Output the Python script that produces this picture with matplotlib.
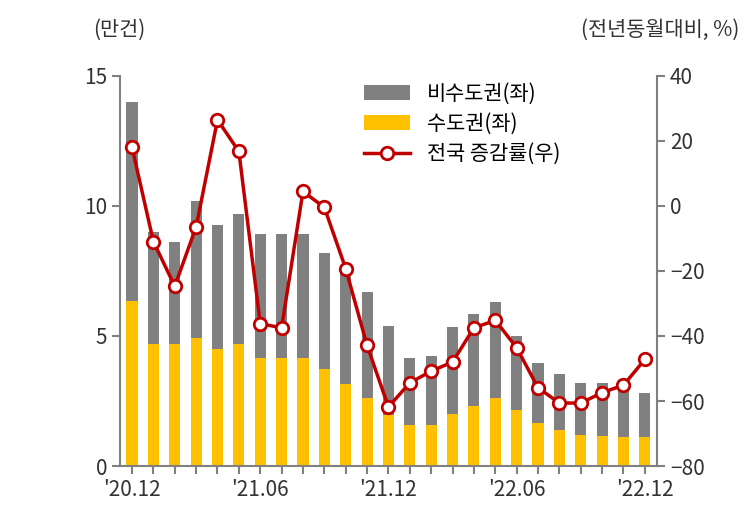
import matplotlib.pyplot as plt
import numpy as np

plt.rcParams['font.family'] = ['Noto Sans CJK JP', 'Noto Sans CJK KR', 'Noto Sans CJK SC', 'DejaVu Sans']

months = ["'20.12", "", "", "", "", "", "'21.06", "", "", "", "", "", "'21.12",
          "", "", "", "", "", "'22.06", "", "", "", "", "", "'22.12"]
total = [14.0, 9.0, 8.6, 10.2, 9.25, 9.7, 8.9, 8.9, 8.9, 8.2, 7.4, 6.7, 5.4,
         4.15, 4.25, 5.35, 5.85, 6.3, 5.0, 3.95, 3.55, 3.2, 3.2, 3.1, 2.8]
capital = [6.33, 4.7, 4.7, 4.93, 4.5, 4.7, 4.15, 4.15, 4.15, 3.72, 3.17, 2.6, 1.95,
           1.6, 1.6, 2.0, 2.33, 2.6, 2.16, 1.66, 1.38, 1.21, 1.16, 1.11, 1.11]
growth = [18.0, -11.0, -24.7, -6.5, 26.4, 16.7, -36.2, -37.5, 4.4, -0.5, -19.3, -42.9, -61.8,
          -54.4, -50.8, -48.0, -37.5, -35.2, -43.6, -55.9, -60.6, -60.6, -57.4, -55.1, -47.2]

noncapital = [t - c for t, c in zip(total, capital)]
x = np.arange(len(months))

fig = plt.figure(figsize=(7.47, 5.14), dpi=100)
ax = fig.add_axes([0.161, 0.093, 0.718, 0.76])
ax.bar(x, capital, width=0.52, color='#FFC000', label='수도권(좌)', zorder=2)
ax.bar(x, noncapital, width=0.52, bottom=capital, color='#808080', label='비수도권(좌)', zorder=2)
ax.set_ylim(0, 15)
ax.set_yticks([0, 5, 10, 15])
ax.set_xlim(-0.55, len(months) - 0.45)
ax.set_xticks(x)
ax.set_xticklabels(months)

ax2 = ax.twinx()
ax2.plot(x, growth, color='#C00000', lw=2.5, marker='o', ms=9, mfc='white',
         mec='#C00000', mew=2, label='전국 증감률(우)', zorder=3)
ax2.set_ylim(-80, 40)
ax2.set_yticks(range(-80, 41, 20))
ax2.set_yticklabels([str(v).replace('-', '−') for v in range(-80, 41, 20)])

for a in (ax, ax2):
    for s in a.spines.values():
        s.set_visible(False)
    a.tick_params(labelsize=15, color='#808080', length=6, width=1.5, colors='#333333')
    a.tick_params(axis='y', color='#808080')
ax.spines['left'].set_visible(True)
ax.spines['bottom'].set_visible(True)
ax2.spines['right'].set_visible(True)
for s in (ax.spines['left'], ax.spines['bottom'], ax2.spines['right']):
    s.set_color('#808080')
    s.set_linewidth(1.5)
ax.tick_params(axis='x', colors='#808080', labelcolor='#333333')

h1, l1 = ax.get_legend_handles_labels()
h2, l2 = ax2.get_legend_handles_labels()
ax2.legend([h1[1], h1[0], h2[0]], [l1[1], l1[0], l2[0]], loc='upper left',
           bbox_to_anchor=(0.42, 1.03), frameon=False, fontsize=15,
           handlelength=2.2, labelspacing=0.4)

fig.text(0.125, 0.93, '(만건)', fontsize=15, color='#333333')
fig.text(0.99, 0.93, '(전년동월대비, %)', fontsize=15, color='#333333', ha='right')

fig.savefig('out.png', dpi=100)
